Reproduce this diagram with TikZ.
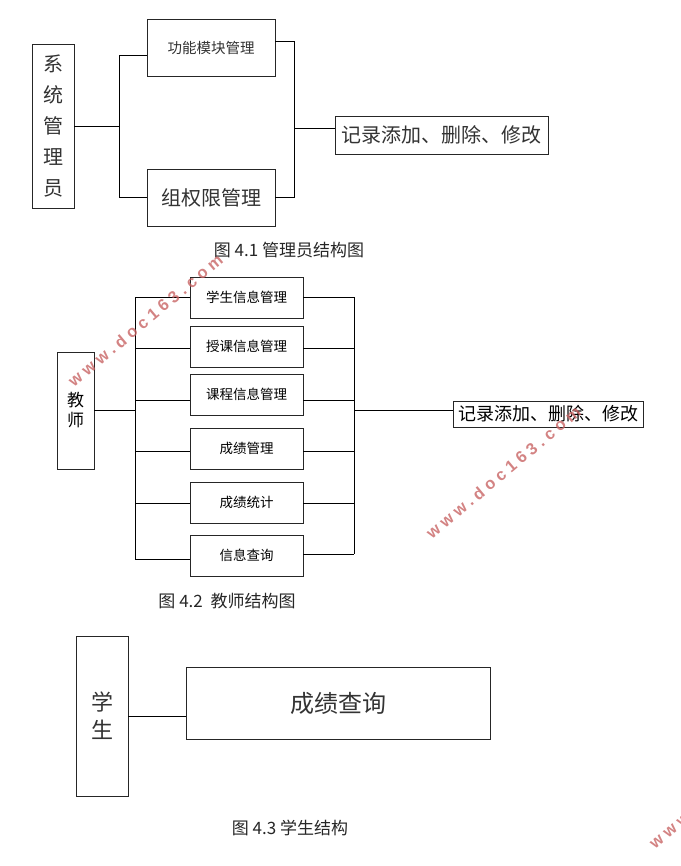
\documentclass[tikz,border=0pt]{standalone}
\usepackage{fontspec}
\setmainfont{Noto Sans CJK SC}
\newfontfamily\wmfont[LetterSpace=27]{Liberation Sans Bold}
\definecolor{wmred}{RGB}{200,100,100}
\begin{document}
\begin{tikzpicture}[x=1pt,y=-1pt,
  box/.style={draw=black!85, line width=0.8pt, fill=white, inner sep=0pt, rectangle},
  conn/.style={line width=0.8pt, black},
  captxt/.style={font=\fontsize{17}{20}\selectfont, text=black!85, inner sep=0pt},
  wm/.style={text=wmred, opacity=0.8, inner sep=0pt, anchor=base west, rotate=40,
    font=\fontsize{16.5}{18}\wmfont}]
\useasboundingbox (0,0) rectangle (680,866);
\clip (0,0) rectangle (680,866);

% ---------------- Figure 4.1 ----------------
\node[box, minimum width=42pt, minimum height=164pt, align=center,
  font=\fontsize{20}{31}\selectfont, text=black!80] (sys) at (53,126) {系\\统\\管\\理\\员};
\node[box, minimum width=128pt, minimum height=57pt,
  font=\fontsize{14.5}{17}\selectfont, text=black!80] (gn) at (211,47.5) {功能模块管理};
\node[box, minimum width=128pt, minimum height=57pt,
  font=\fontsize{20}{24}\selectfont, text=black!80] (zq) at (211,197.5) {组权限管理};
\node[box, minimum width=213pt, minimum height=38pt,
  font=\fontsize{20}{24}\selectfont, text=black!80] (rec1) at (441.5,135) {记录添加、删除、修改};

\coordinate (L1mid) at (119,126);
\coordinate (L1top) at (119,55);
\coordinate (L1bot) at (119,197);
\coordinate (R1top) at (294,41);
\coordinate (R1bot) at (294,197);
\coordinate (R1mid) at (294,128);
\draw[conn] (sys.east) -- (L1mid);
\draw[conn] (gn.west |- L1top) -- (L1top) -- (L1bot) -- (zq.west |- L1bot);
\draw[conn] (gn.east |- R1top) -- (R1top) -- (R1bot) -- (zq.east |- R1bot);
\draw[conn] (R1mid) -- (rec1.west |- R1mid);

\node[captxt] (cap1) at (289,250) {图 4.1 管理员结构图};

% ---------------- Figure 4.2 ----------------
\node[box, minimum width=37pt, minimum height=117pt, align=center,
  font=\fontsize{17}{20}\selectfont] (tea) at (75.5,410.5) {教\\师};
\tikzset{tbox/.style={box, minimum width=113pt, minimum height=41pt,
  font=\fontsize{13.5}{16}\selectfont}}
\node[tbox] (b1) at (246.5,297.5) {学生信息管理};
\node[tbox] (b2) at (246.5,346.5) {授课信息管理};
\node[tbox] (b3) at (246.5,394.5) {课程信息管理};
\node[tbox] (b4) at (246.5,448.5) {成绩管理};
\node[tbox] (b5) at (246.5,502.5) {成绩统计};
\node[tbox] (b6) at (246.5,555.5) {信息查询};
\node[box, minimum width=190pt, minimum height=26pt,
  font=\fontsize{18}{21}\selectfont] (rec2) at (548,414) {记录添加、删除、修改};

\coordinate (L2mid) at (135,410);
\coordinate (L2a) at (135,297);
\coordinate (L2b) at (135,348);
\coordinate (L2c) at (135,400);
\coordinate (L2d) at (135,451);
\coordinate (L2e) at (135,503);
\coordinate (L2f) at (135,559);
\coordinate (R2a) at (354,297);
\coordinate (R2b) at (354,348);
\coordinate (R2c) at (354,400);
\coordinate (R2d) at (354,451);
\coordinate (R2e) at (354,503);
\coordinate (R2f) at (354,554);
\coordinate (R2mid) at (354,410);
\draw[conn] (tea.east |- L2mid) -- (L2mid);
\draw[conn] (L2a) -- (L2f);
\draw[conn] (R2a) -- (R2f);
\draw[conn] (L2a) -- (b1.west |- L2a);
\draw[conn] (L2b) -- (b2.west |- L2b);
\draw[conn] (L2c) -- (b3.west |- L2c);
\draw[conn] (L2d) -- (b4.west |- L2d);
\draw[conn] (L2e) -- (b5.west |- L2e);
\draw[conn] (L2f) -- (b6.west |- L2f);
\draw[conn] (b1.east |- R2a) -- (R2a);
\draw[conn] (b2.east |- R2b) -- (R2b);
\draw[conn] (b3.east |- R2c) -- (R2c);
\draw[conn] (b4.east |- R2d) -- (R2d);
\draw[conn] (b5.east |- R2e) -- (R2e);
\draw[conn] (b6.east |- R2f) -- (R2f);
\draw[conn] (R2mid) -- (rec2.west |- R2mid);

\node[captxt] (cap2) at (227,601) {图 4.2 \ 教师结构图};

% ---------------- Figure 4.3 ----------------
\node[box, minimum width=52pt, minimum height=160pt, align=center,
  font=\fontsize{22}{28}\selectfont, text=black!80] (stu) at (102,716) {学\\生};
\node[box, minimum width=304pt, minimum height=72pt,
  font=\fontsize{24}{28}\selectfont, text=black!80] (cj) at (338,703) {成绩查询};
\draw[conn] (stu.east) -- (cj.west |- stu.east);

\node[captxt] (cap3) at (290,828) {图 4.3 学生结构};

% ---------------- watermarks ----------------
\node[wm] (wm1) at (74,388) {www.doc163.com};
\node[wm] (wm2) at (432,540) {www.doc163.com};
\node[wm] (wm3) at (655,850) {www.doc163.com};
\end{tikzpicture}
\end{document}
